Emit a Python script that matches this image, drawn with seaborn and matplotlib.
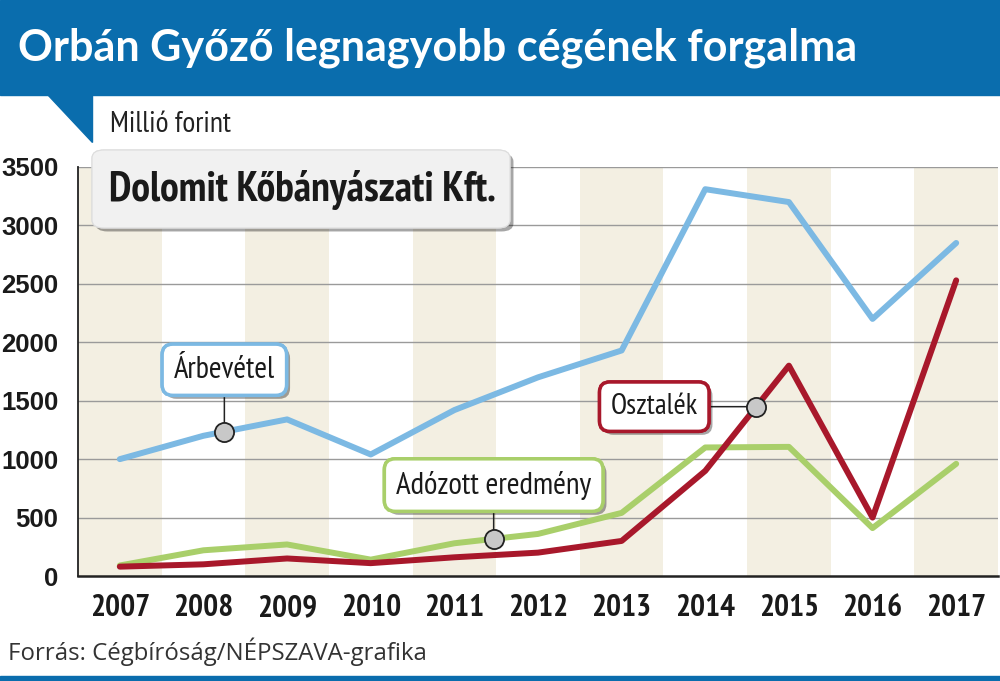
import matplotlib
matplotlib.use("Agg")
import matplotlib.pyplot as plt
import matplotlib.patheffects as pe
from matplotlib import font_manager
from matplotlib.patches import Rectangle, Polygon, FancyBboxPatch
from matplotlib.text import Text
from matplotlib.ticker import FixedLocator
import numpy as np
import pandas as pd
import seaborn as sns

# ------------------------------------------------
# Data (millió forint)
# ------------------------------------------------
years = [2007, 2008, 2009, 2010, 2011, 2012, 2013, 2014, 2015, 2016, 2017]
arbevetel = [1000, 1200, 1340, 1040, 1420, 1700, 1930, 3310, 3200, 2200, 2850]
adozott = [90, 220, 270, 140, 280, 360, 540, 1100, 1105, 410, 960]
osztalek = [80, 100, 150, 110, 160, 200, 300, 900, 1800, 500, 2530]

series_names = ["Árbevétel", "Adózott eredmény", "Osztalék"]
series_colors = ["#7cb9e3", "#a9cf6a", "#a8182b"]
y_ticks = [0, 500, 1000, 1500, 2000, 2500, 3000, 3500]

title = "Orbán Győző legnagyobb cégének forgalma"
unit_label = "Millió forint"
company = "Dolomit Kőbányászati Kft."
source = "Forrás: Cégbíróság/NÉPSZAVA-grafika"

BLUE = "#0a6dad"
BEIGE = "#f3efe2"

df = pd.DataFrame({
    "year": years * 3,
    "value": arbevetel + adozott + osztalek,
    "series": [n for n in series_names for _ in years],
})

sns.set_style("white")
plt.rcParams["font.family"] = ["Liberation Sans", "DejaVu Sans"]

W, H = 1000, 681
fig = plt.figure(figsize=(W / 100, H / 100), dpi=100)
ax = fig.add_axes([78 / W, 1 - 576 / H, 920 / W, 409 / H])
renderer = fig.canvas.get_renderer()


# ------------------------------------------------
# Fonts: pick an installed condensed face whose proportions
# come closest to the reference lettering
# ------------------------------------------------
def weight_num(w):
    return w if isinstance(w, int) else font_manager.weight_dict.get(w, 400)


cands = {("Liberation Sans", "normal"): {400, 700}}
for f in font_manager.fontManager.ttflist:
    if "Narrow" in f.name or "Condensed" in f.name:
        key = (f.name, "normal")
    elif str(f.stretch) in ("condensed", "semi-condensed", "extra-condensed"):
        key = (f.name, str(f.stretch))
    else:
        continue
    cands.setdefault(key, set()).add(weight_num(f.weight))


def font_score(key):
    bold = max(cands[key]) >= 600
    t = fig.text(0, 0, company, family=[key[0]], fontstretch=key[1], fontsize=20,
                 fontweight="bold" if bold else "normal")
    w = t.get_window_extent(renderer).width
    t.remove()
    # reference: ~387 px wide at ~30 px cap height -> ~255 px at 20 pt
    return abs(w - 255) + (0 if bold else 30)


narrow, stretch = min(cands, key=font_score)
has_bold = max(cands[(narrow, stretch)]) >= 600
NARROW = dict(family=[narrow, "DejaVu Sans"], fontstretch=stretch)


def px(x, y):
    """pixel position (from top-left) -> figure fraction"""
    return x / W, 1 - y / H


def fit_width(t, target):
    """scale a text's font size so that it is `target` pixels wide"""
    w = Text.get_window_extent(t, renderer).width
    t.set_fontsize(t.get_fontsize() * target / w)


# ------------------------------------------------
# Header / footer decoration
# ------------------------------------------------
fig.patches.append(Rectangle(px(0, 95), 1, 95 / H, transform=fig.transFigure,
                             color=BLUE, zorder=0))
fig.patches.append(Polygon([px(47, 94), px(92, 94), px(92, 142)], closed=True,
                           transform=fig.transFigure, color=BLUE, zorder=0))
fig.patches.append(Rectangle((0, 0), 1, 5 / H, transform=fig.transFigure,
                             color=BLUE, zorder=0))
t_title = fig.text(*px(18, 48), title, color="white", fontsize=31, fontweight="bold",
                   family=["Lato", "DejaVu Sans"], va="center", ha="left")
t_unit = fig.text(*px(110, 125), unit_label, color="#222222", fontsize=17,
                  va="center", ha="left", **NARROW)
t_src = fig.text(*px(8, 652), source, color="#333333", fontsize=16.5,
                 family=["Open Sans", "DejaVu Sans"], va="center", ha="left")

# ------------------------------------------------
# Alternating year columns and grid
# ------------------------------------------------
for yr in years[::2]:
    ax.axvspan(yr - 0.5, yr + 0.5, color=BEIGE, zorder=0, lw=0)
for v in y_ticks[1:]:
    ax.axhline(v, color="#9a9a9a", lw=1, zorder=1)

# ------------------------------------------------
# Lines
# ------------------------------------------------
sns.lineplot(data=df, x="year", y="value", hue="series", hue_order=series_names,
             palette=series_colors, lw=4.3, legend=False, ax=ax, zorder=3)

ax.set_xlim(years[0] - 0.5, years[-1] + 0.5)
ax.set_ylim(0, 3500)
ax.set_xlabel("")
ax.set_ylabel("")
ax.set_facecolor("white")

for side in ["top", "right"]:
    ax.spines[side].set_visible(False)
ax.spines["left"].set_color("#222222")
ax.spines["left"].set_linewidth(1.3)
ax.spines["bottom"].set_color("#222222")
ax.spines["bottom"].set_linewidth(1.8)
ax.spines["left"].set_zorder(4)
ax.spines["bottom"].set_zorder(4)

ax.set_yticks(y_ticks)
ax.set_yticklabels([str(v) for v in y_ticks])
ax.tick_params(axis="y", direction="in", length=9, width=1.2, color="#222222",
               pad=14, labelsize=18.5, labelcolor="#1a1a1a")
ax.set_xticks(years)
ax.set_xticklabels([str(y) for y in years])
ax.xaxis.set_minor_locator(FixedLocator([y + 0.5 for y in years]))
ax.tick_params(axis="x", which="major", length=0, pad=13, labelsize=19.5,
               labelcolor="#1a1a1a")
ax.tick_params(axis="x", which="minor", direction="in", length=8, width=1.2,
               color="#222222")
for lab in ax.get_yticklabels():
    lab.set_fontweight("bold")
for lab in ax.get_xticklabels():
    lab.set_fontweight("bold")
    lab.set_family(NARROW["family"])
    lab.set_fontstretch(stretch)
    if not has_bold:
        lab.set_path_effects([pe.withStroke(linewidth=1.2, foreground="#1a1a1a")])

# ------------------------------------------------
# Company box
# ------------------------------------------------
shadow = [pe.withSimplePatchShadow(offset=(2.5, -2.5), shadow_rgbFace="#000000", alpha=0.35),
          pe.Normal()]
box = FancyBboxPatch(px(92, 228), 418 / W, 78 / H, transform=fig.transFigure,
                     boxstyle="round,pad=0,rounding_size=0.012",
                     facecolor="#f1f1f1", edgecolor="#dddddd", lw=0.8, zorder=5)
box.set_path_effects(shadow)
fig.patches.append(box)
t_comp = fig.text(*px(302, 190), company, color="#1a1a1a", fontsize=26,
                  fontweight="bold", va="center", ha="center", zorder=6, **NARROW)
if not has_bold:
    # no bold condensed face installed: thicken the regular one
    t_comp.set_path_effects([pe.withStroke(linewidth=1.6, foreground="#1a1a1a")])

# ------------------------------------------------
# Callout labels
# ------------------------------------------------
callouts = [
    # series index, dot x (year), text x, text y, text width in px
    (0, 2008.25, 2008.25, 1765, 101),
    (1, 2011.47, 2011.47, 778, 195),
    (2, 2014.61, 2013.39, None, 87),
]
values = [arbevetel, adozott, osztalek]
anns = []
for idx, dot_x, tx, ty, tw in callouts:
    dot_y = float(np.interp(dot_x, years, values[idx]))
    if ty is None:
        ty = dot_y
    ann = ax.annotate(
        series_names[idx], xy=(dot_x, dot_y), xytext=(tx, ty),
        ha="center", va="center", fontsize=20, color="#1a1a1a", zorder=7,
        bbox=dict(boxstyle="round,pad=0.38,rounding_size=0.35", facecolor="white",
                  edgecolor=series_colors[idx], lw=2.5),
        arrowprops=dict(arrowstyle="-", color="#222222", lw=1.1,
                        shrinkA=0, shrinkB=0),
        **NARROW,
    )
    ann.get_bbox_patch().set_path_effects(shadow)
    anns.append((ann, tw))
    ax.scatter([dot_x], [dot_y], s=190, color="#c8c8c8", edgecolor="#222222",
               linewidth=1.3, zorder=8)

# match the text widths of the reference
fit_width(t_title, 837)
fit_width(t_unit, 122)
fit_width(t_src, 417)
fit_width(t_comp, 387)
for ann, tw in anns:
    fit_width(ann, tw)

# one common size for the year labels, sized on "2008" (~60 px wide)
xlabs = ax.get_xticklabels()
fit_width(xlabs[1], 60)
for lab in xlabs:
    lab.set_fontsize(xlabs[1].get_fontsize())

fig.savefig("out.png", dpi=100)
